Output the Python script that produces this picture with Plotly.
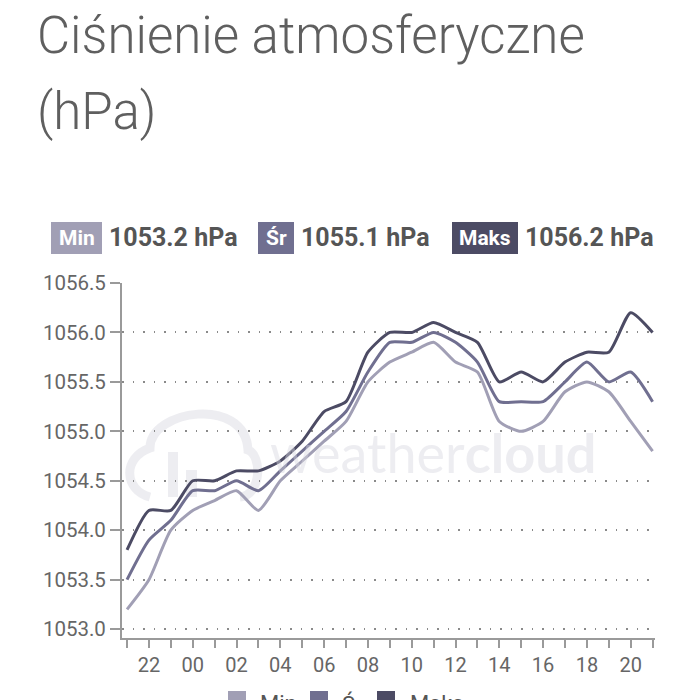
import plotly.graph_objects as go

# hourly readings, 21:00 -> 21:00 next day
hour_labels = ["21", "22", "23", "00", "01", "02", "03", "04", "05", "06", "07", "08", "09",
               "10", "11", "12", "13", "14", "15", "16", "17", "18", "19", "20", "21"]
min_vals = [1053.2, 1053.5, 1054.0, 1054.2, 1054.3, 1054.4, 1054.2, 1054.5, 1054.7, 1054.9,
            1055.1, 1055.5, 1055.7, 1055.8, 1055.9, 1055.7, 1055.6, 1055.1, 1055.0, 1055.1,
            1055.4, 1055.5, 1055.4, 1055.1, 1054.8]
avg_vals = [1053.5, 1053.9, 1054.1, 1054.4, 1054.4, 1054.5, 1054.4, 1054.6, 1054.8, 1055.0,
            1055.2, 1055.6, 1055.9, 1055.9, 1056.0, 1055.9, 1055.7, 1055.3, 1055.3, 1055.3,
            1055.5, 1055.7, 1055.5, 1055.6, 1055.3]
max_vals = [1053.8, 1054.2, 1054.2, 1054.5, 1054.5, 1054.6, 1054.6, 1054.7, 1054.9, 1055.2,
            1055.3, 1055.8, 1056.0, 1056.0, 1056.1, 1056.0, 1055.9, 1055.5, 1055.6, 1055.5,
            1055.7, 1055.8, 1055.8, 1056.2, 1056.0]
y_ticks = [1053.0, 1053.5, 1054.0, 1054.5, 1055.0, 1055.5, 1056.0, 1056.5]

series_names = ["Min", "Śr", "Maks"]
summary_vals = [1053.2, 1055.1, 1056.2]
colors = ["#a19fb5", "#706f90", "#4c4b64"]

# page body adds an 8px margin, so work in screen pixels and shift back
OFF = 8
L, R, T, B = 122 - OFF, 655 - OFF, 283 - OFF, 638 - OFF


def px_x(p):
    return (p - OFF - L) / (R - L)


def px_y(p):
    return (B - (p - OFF)) / (B - T)


x = list(range(len(hour_labels)))
fig = go.Figure()

for name, vals, col in zip(series_names, [min_vals, avg_vals, max_vals], colors):
    fig.add_trace(go.Scatter(
        x=x, y=vals, mode="lines", name=name,
        line=dict(color=col, width=3, shape="spline", smoothing=0.6),
        showlegend=False,
    ))

shapes = []
annotations = []

title_font = dict(family="Roboto Light, Roboto", size=51, color="#5f5f5f", weight=300)
annotations.append(dict(xref="paper", yref="paper", x=px_x(35), y=px_y(35),
                        xanchor="left", yanchor="middle", showarrow=False,
                        text="Ciśnienie atmosferyczne", font=title_font))
annotations.append(dict(xref="paper", yref="paper", x=px_x(35), y=px_y(111),
                        xanchor="left", yanchor="middle", showarrow=False,
                        text="(hPa)", font=title_font))

# summary badges
badge_boxes = [(51, 102), (258, 294), (452, 518)]
for (x0, x1), name, val, col in zip(badge_boxes, series_names, summary_vals, colors):
    shapes.append(dict(type="rect", xref="paper", yref="paper",
                       x0=px_x(x0), x1=px_x(x1), y0=px_y(254), y1=px_y(222),
                       fillcolor=col, line=dict(width=0), layer="above"))
    annotations.append(dict(xref="paper", yref="paper", x=px_x((x0 + x1) / 2), y=px_y(238),
                            xanchor="center", yanchor="middle", showarrow=False,
                            text="<b>%s</b>" % name,
                            font=dict(family="Roboto", size=21, color="white")))
    annotations.append(dict(xref="paper", yref="paper", x=px_x(x1 + 5), y=px_y(238),
                            xanchor="left", yanchor="middle", showarrow=False,
                            text="<b>%.1f hPa</b>" % val,
                            font=dict(family="Roboto", size=25, color="#555555")))

# bottom legend (cut by the window edge, as on the original)
legend_pos = [(228, 258), (310, 340), (377, 408)]
for (sx, tx), name, col in zip(legend_pos, series_names, colors):
    shapes.append(dict(type="rect", xref="paper", yref="paper",
                       x0=px_x(sx), x1=px_x(sx + 18), y0=px_y(709), y1=px_y(691),
                       fillcolor=col, line=dict(width=0)))
    annotations.append(dict(xref="paper", yref="paper", x=px_x(tx), y=px_y(689),
                            xanchor="left", yanchor="top", showarrow=False,
                            text=name, font=dict(family="Roboto", size=22, color="#555555")))

# weathercloud watermark
wm = "rgba(215,215,225,0.45)"
annotations.append(dict(xref="paper", yref="paper", x=px_x(268), y=px_y(452),
                        xanchor="left", yanchor="middle", showarrow=False,
                        text="weather<b>cloud</b>",
                        font=dict(family="Lato", size=54, color=wm)))
cloud = [(150, 497), (124, 490), (122, 458), (150, 448), (150, 410), (245, 395), (248, 450),
         (262, 455), (262, 495), (240, 497)]
pts = [(px_x(a), px_y(b)) for a, b in cloud]
path = "M %.4f,%.4f" % pts[0]
for i in range(1, 10, 3):
    path += " C %.4f,%.4f %.4f,%.4f %.4f,%.4f" % (pts[i] + pts[i + 1] + pts[i + 2])
shapes.append(dict(type="path", xref="paper", yref="paper", path=path, layer="below",
                   line=dict(color=wm, width=9)))
for bx0, bx1, by0 in [(168, 178, 452), (186, 197, 470)]:
    shapes.append(dict(type="rect", xref="paper", yref="paper", layer="below",
                       x0=px_x(bx0), x1=px_x(bx1), y0=px_y(497), y1=px_y(by0),
                       fillcolor=wm, line=dict(width=0)))

# little box at the top right corner
shapes.append(dict(type="rect", xref="paper", yref="paper",
                   x0=px_x(629), x1=px_x(687), y0=px_y(5), y1=px_y(-3),
                   fillcolor="white", line=dict(color="#cccccc", width=1)))

fig.update_layout(
    width=700, height=700,
    margin=dict(l=L, r=700 - R, t=T, b=700 - B),
    paper_bgcolor="white", plot_bgcolor="white",
    font=dict(family="Roboto", color="#666666"),
    shapes=shapes, annotations=annotations,
    showlegend=False,
)
fig.update_xaxes(
    range=[-0.23, 24.11], tickvals=x,
    ticktext=[h if i % 2 == 1 else "" for i, h in enumerate(hour_labels)],
    showline=True, linecolor="#9a9a9a", linewidth=2,
    ticks="outside", ticklen=8, tickcolor="#9a9a9a", tickwidth=1.5,
    showgrid=False, zeroline=False, tickfont=dict(size=20, color="#666666"),
)
fig.update_yaxes(
    range=[1052.91, 1056.5], tickvals=y_ticks,
    ticktext=["%.1f" % v for v in y_ticks],
    showline=True, linecolor="#9a9a9a", linewidth=2,
    ticks="outside", ticklen=10, tickcolor="#9a9a9a", tickwidth=1.5,
    showgrid=True, gridcolor="#8a8a8a", gridwidth=1.5, griddash="1.5px,9px",
    zeroline=False, tickfont=dict(size=20.5, color="#666666"),
)

fig.write_html("out.html")
